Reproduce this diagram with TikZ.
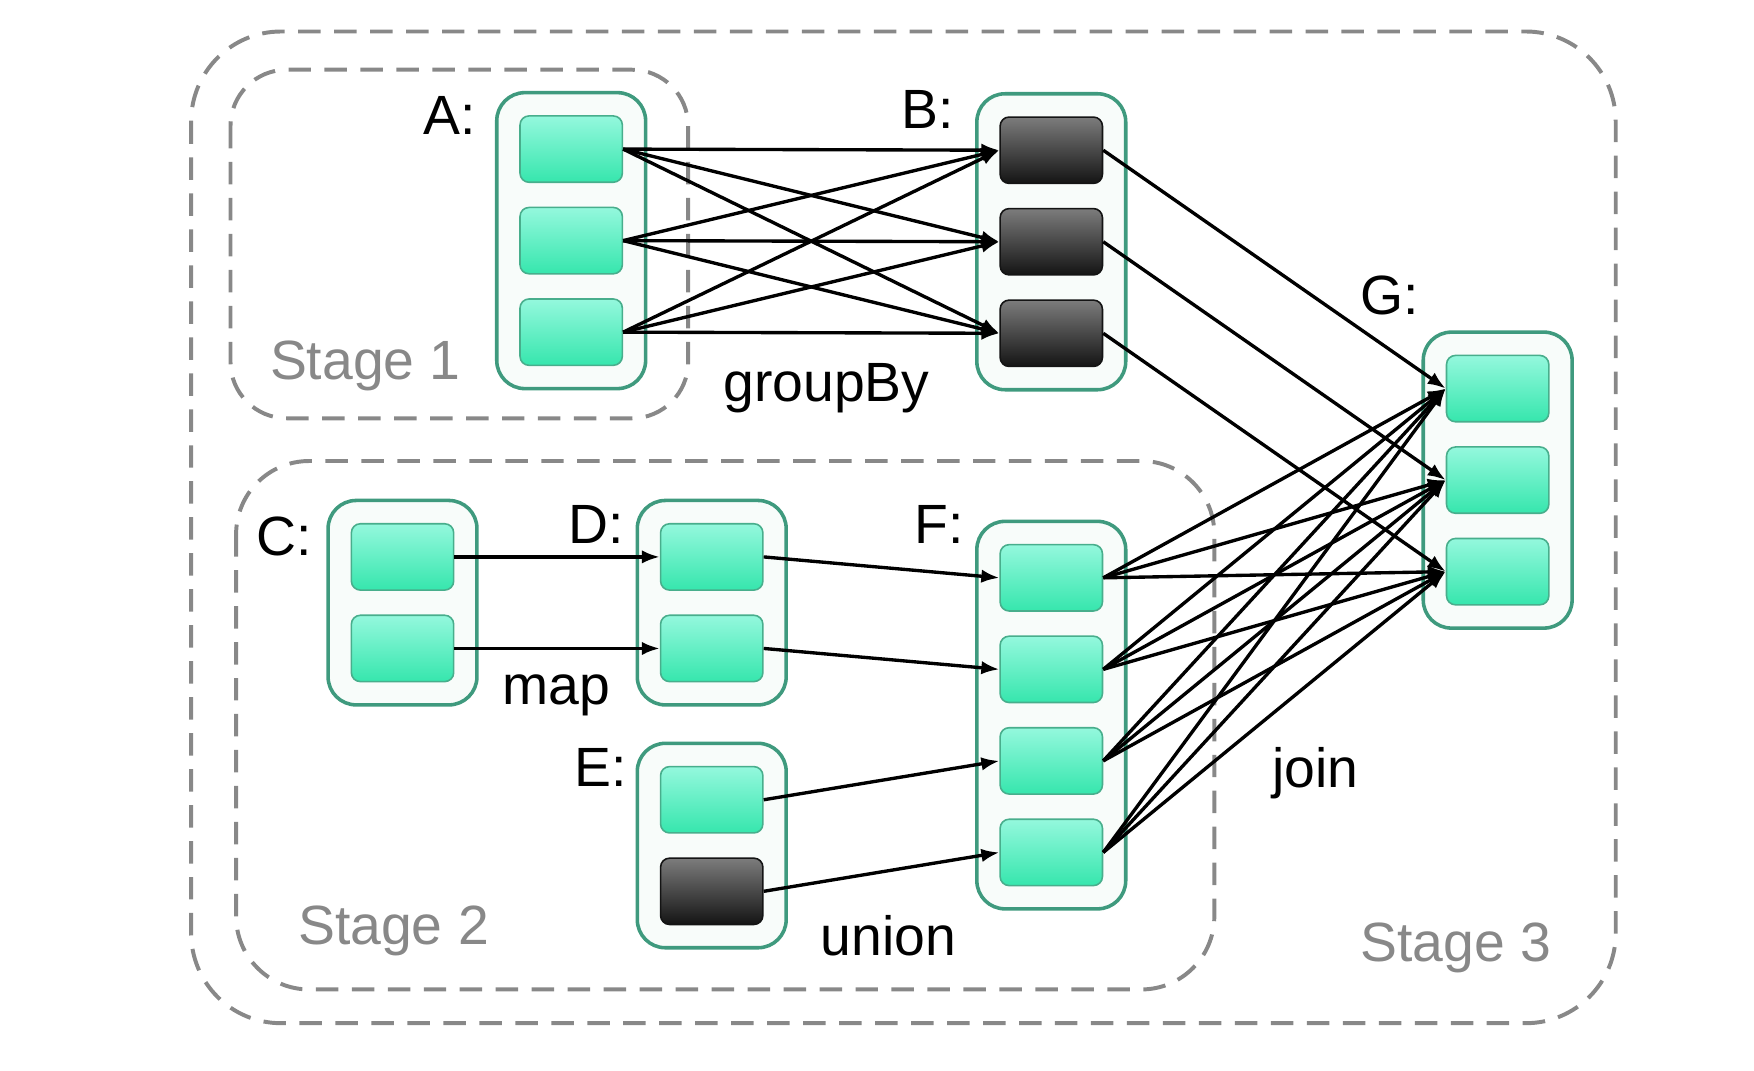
\documentclass[tikz,border=0pt]{standalone}
\usepackage{fontspec}
\setmainfont{Liberation Sans}
\usepackage{tikz}
\usetikzlibrary{matrix, arrows.meta}
\definecolor{boxline}{HTML}{3F9A7E}
\definecolor{boxfill}{HTML}{F8FCFA}
\definecolor{cellline}{HTML}{48AE8C}
\definecolor{celltop}{HTML}{94F8DD}
\definecolor{cellbot}{HTML}{36E6AD}
\definecolor{darktop}{HTML}{7C7C7C}
\definecolor{darkbot}{HTML}{141414}
\definecolor{stagegray}{HTML}{888888}
\tikzset{
    part/.style={draw=cellline, line width=0.4pt, rounded corners=0.08cm,
        minimum width=0.91cm, minimum height=0.59cm, inner sep=0pt,
        top color=celltop, bottom color=cellbot},
    darkpart/.style={draw=darkbot, top color=darktop, bottom color=darkbot},
    rdd/.style={matrix of nodes, nodes in empty cells, nodes={part},
        row sep=0.21cm, inner sep=0.2cm, draw=boxline, line width=0.9pt,
        fill=boxfill, rounded corners=0.25cm},
    stagebox/.style={draw=stagegray, line width=1pt,
        dash pattern=on 0.2cm off 0.12cm},
    lbl/.style={inner sep=0pt, font=\fontsize{14}{16}\selectfont},
    stagelbl/.style={lbl, text=stagegray},
    conn/.style={-{Latex[length=0.16cm,width=0.12cm]}, line width=0.85pt},
}
\begin{document}
\begin{tikzpicture}
\useasboundingbox (0,0) rectangle (15.6,-9.52);

\draw[stagebox, rounded corners=0.8cm] (1.70,-0.28) rectangle (14.37,-9.10);
\draw[stagebox, rounded corners=0.5cm] (2.05,-0.62) rectangle (6.12,-3.72);
\draw[stagebox, rounded corners=0.65cm] (2.10,-4.10) rectangle (10.80,-8.80);

\matrix (A) at (5.08,-2.14) [rdd]{ \\ \\ \\};
\matrix (B) at (9.35,-2.15) [rdd]{
    |[darkpart]| \\ |[darkpart]| \\ |[darkpart]| \\};
\matrix (G) at (13.32,-4.27) [rdd]{ \\ \\ \\};
\matrix (C) at (3.58,-5.36) [rdd]{ \\ \\};
\matrix (D) at (6.33,-5.36) [rdd]{ \\ \\};
\matrix (E) at (6.33,-7.52) [rdd]{ \\ |[darkpart]| \\};
\matrix (F) at (9.35,-6.36) [rdd]{ \\ \\ \\ \\};

\node[lbl] (labA) at (4.00,-1.03) {A:};
\node[lbl] (labB) at (8.25,-0.97) {B:};
\node[lbl] (labC) at (2.53,-4.77) {C:};
\node[lbl] (labD) at (5.30,-4.66) {D:};
\node[lbl] (labE) at (5.34,-6.83) {E:};
\node[lbl] (labF) at (8.35,-4.66) {F:};
\node[lbl] (labG) at (12.36,-2.63) {G:};

\node[lbl] (groupby) at (7.35,-3.45) {groupBy};
\node[lbl] (map) at (4.95,-6.18) {map};
\node[lbl] (union) at (7.90,-8.32) {union};
\node[lbl] (join) at (11.70,-6.88) {join};

\node[stagelbl] (st1) at (3.25,-3.25) {Stage 1};
\node[stagelbl] (st2) at (3.50,-8.28) {Stage 2};
\node[stagelbl] (st3) at (12.95,-8.43) {Stage 3};

    \foreach \i in {1,2,3}
    \foreach \j in {1,2,3}
    \draw [conn] (A-\i-1.east) -- (B-\j-1.west);

    \foreach \i in {1,2,3}
    \draw [conn] (B-\i-1.east) -- (G-\i-1.west);

    \foreach \i in {1,2}
    \draw [conn] (C-\i-1.east) -- (D-\i-1.west);

    \foreach \i in {1,2}
    \draw [conn] (D-\i-1.east) -- (F-\i-1.west);

    \foreach \i [evaluate=\i as \nj using {int(\i+2)}] in {1,2}
    \draw [conn] (E-\i-1.east) -- (F-\nj-1.west);

    \foreach \i in {1,...,4}
    \foreach \j in {1,2,3}
    \draw [conn] (F-\i-1.east) -- (G-\j-1.west);

\end{tikzpicture}
\end{document}
